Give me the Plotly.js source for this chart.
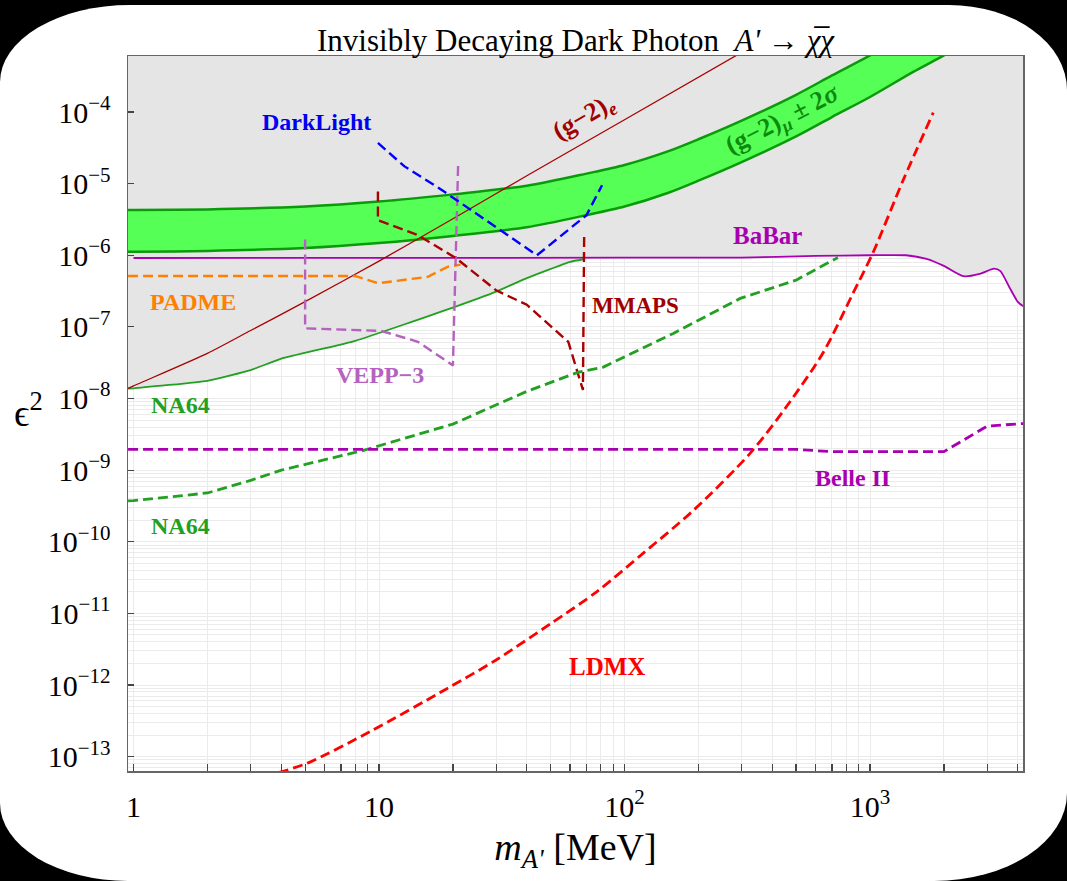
<!DOCTYPE html>
<html><head><meta charset="utf-8">
<script src="https://cdn.plot.ly/plotly-3.0.1.min.js"></script>
<style>
html,body{margin:0;padding:0;background:#000;width:1067px;height:881px;overflow:hidden;}
#bg{position:absolute;left:0;top:5px;width:1067px;height:876px;background:#fff;border-radius:130px 118px 133px 128px / 77px 85px 88px 78px;}
#chart{position:absolute;left:0;top:0;width:1067px;height:881px;}
</style></head><body>
<div id="bg"></div><div id="chart"></div>
<script>
// ---- data (mass in MeV, epsilon^2) ----
const bandMass   = [0.9, 1, 2, 5, 10, 20, 40, 70, 100, 150, 200, 300, 500, 700, 1000, 1500, 2000, 3000, 4500];
const g2muLower  = [1.12e-6, 1.12e-6, 1.15e-6, 1.26e-6, 1.48e-6, 1.86e-6, 2.46e-6, 3.63e-6, 4.79e-6, 7.41e-6, 1.10e-5, 2.0e-5, 4.57e-5, 8.51e-5, 1.62e-4, 3.63e-4, 6.17e-4, 1.38e-3, 3.16e-3];
const g2muUpper  = [4.27e-6, 4.27e-6, 4.37e-6, 4.79e-6, 5.62e-6, 7.08e-6, 9.33e-6, 1.38e-5, 1.82e-5, 2.82e-5, 4.17e-5, 7.59e-5, 1.74e-4, 3.24e-4, 6.17e-4, 1.38e-3, 2.34e-3, 5.25e-3, 1.26e-2];

const g2eMass = [0.95, 1, 2, 3, 5, 10, 20, 40, 100, 300];
const g2eEps  = [1.38e-8, 1.5e-8, 4.27e-8, 8.9e-8, 2.25e-7, 8.3e-7, 3.24e-6, 1.29e-5, 7.8e-5, 6.8e-4];

const babarMass = [1, 10, 100, 300, 600, 1000, 1400, 1700, 2000, 2400, 2800, 3200, 3400, 3700, 4000, 4300];
const babarEps  = [9.16e-7, 9.2e-7, 9.25e-7, 9.3e-7, 9.8e-7, 1.0e-6, 1.0e-6, 8.9e-7, 7.1e-7, 5.1e-7, 5.5e-7, 6.5e-7, 6.0e-7, 3.55e-7, 2.24e-7, 1.85e-7];

const na64Mass = [0.95, 1, 2, 3, 4, 8, 20, 30, 40, 60, 68];
const na64Eps  = [1.38e-8, 1.39e-8, 1.77e-8, 2.5e-8, 3.6e-8, 6.4e-8, 1.86e-7, 3.1e-7, 4.8e-7, 8.1e-7, 8.8e-7];

const na64ProjMass = [0.95, 1, 2, 3, 4, 8.5, 20, 40, 65, 82, 158, 296, 500, 740];
const na64ProjEps  = [3.72e-10, 3.75e-10, 4.8e-10, 7.2e-10, 1.0e-9, 1.86e-9, 4.4e-9, 1.26e-8, 2.34e-8, 2.75e-8, 8.1e-8, 2.5e-7, 4.5e-7, 9.3e-7];

const belleMass = [0.95, 500, 700, 2000, 3000, 4300];
const belleEps  = [1.95e-9, 1.95e-9, 1.81e-9, 1.81e-9, 4.12e-9, 4.5e-9];

const ldmxMass = [3.9, 5.1, 9.2, 18.9, 30, 50, 77, 119, 191, 324, 458, 645, 855, 1030, 1370, 1810];
const ldmxEps  = [6.0e-14, 8.1e-14, 2.24e-13, 8.9e-13, 2.24e-12, 7.2e-12, 2.0e-11, 6.9e-11, 2.75e-10, 1.7e-9, 7.8e-9, 4.4e-8, 3.0e-7, 1.1e-6, 1.15e-5, 9.8e-5];

const darkLightMass = [9.9, 12.7, 17.7, 44, 70, 81];
const darkLightEps  = [3.7e-5, 1.74e-5, 8.5e-6, 1.0e-6, 3.63e-6, 9.5e-6];

const veppMass = [5, 5, 10.2, 14.4, 20, 21];
const veppEps  = [1.66e-6, 9.55e-8, 8.8e-8, 6.2e-8, 2.9e-8, 1.82e-5];

const padmeMass = [0.95, 8, 9.9, 15.8, 19, 21.5];
const padmeEps  = [5.13e-7, 5.13e-7, 4.07e-7, 5.0e-7, 6.9e-7, 7.4e-7];

const mmapsMass = [9.9, 9.9, 14.4, 20.6, 30, 40, 59, 67.7, 68.5];
const mmapsEps  = [7.76e-6, 3.09e-6, 1.91e-6, 9.1e-7, 3.24e-7, 2.04e-7, 6.2e-8, 1.32e-8, 1.9e-6];

const xTickVals = [1, 10, 100, 1000];
const xTickText = ['1', '10', '10<sup>2</sup>', '10<sup>3</sup>'];
const yTickVals = [1e-4, 1e-5, 1e-6, 1e-7, 1e-8, 1e-9, 1e-10, 1e-11, 1e-12, 1e-13];
const yTickText = ['10<sup>−4</sup>', '10<sup>−5</sup>', '10<sup>−6</sup>', '10<sup>−7</sup>', '10<sup>−8</sup>', '10<sup>−9</sup>', '10<sup>−10</sup>', '10<sup>−11</sup>', '10<sup>−12</sup>', '10<sup>−13</sup>'];

// ---- excluded (grey) region: above NA64 then BaBar ----
const joinMass = na64Mass[na64Mass.length - 1];
const exX = na64Mass.concat(babarMass.filter(m => m > joinMass));
const exY = na64Eps.concat(babarEps.filter((_, i) => babarMass[i] > joinMass));
const greyX = [0.5].concat(exX, [6000, 6000, 0.5]);
const greyY = [exY[0]].concat(exY, [exY[exY.length - 1], 1, 1]);

const FONT = 'Liberation Serif, Times New Roman, serif';
function line(x, y, color, width, dash, smooth) {
  const ln = {color: color, width: width, dash: dash || 'solid'};
  if (smooth) { ln.shape = 'spline'; ln.smoothing = smooth; }
  return {x: x, y: y, type: 'scatter', mode: 'lines', hoverinfo: 'skip', line: ln};
}
const DASH = '10px,5px';

const traces = [
  {x: greyX, y: greyY, type: 'scatter', mode: 'lines', fill: 'toself', fillcolor: '#e5e5e5',
   line: {width: 0, color: 'rgba(0,0,0,0)'}, hoverinfo: 'skip'},
  {x: bandMass, y: g2muLower, type: 'scatter', mode: 'lines', line: {color: '#0a9a0a', width: 2.5, shape: 'spline', smoothing: 0.8}, hoverinfo: 'skip'},
  {x: bandMass, y: g2muUpper, type: 'scatter', mode: 'lines', fill: 'tonexty', fillcolor: '#55ff55',
   line: {color: '#0a9a0a', width: 2.5, shape: 'spline', smoothing: 0.8}, hoverinfo: 'skip'},
  line(babarMass, babarEps, '#a800b0', 1.8, null, 0.6),
  line(na64Mass, na64Eps, '#22a022', 1.8, null, 0.4),
  line(g2eMass, g2eEps, '#aa0000', 1.3, null, 0.6),
  line(padmeMass, padmeEps, '#ff8000', 2.4, DASH),
  line(veppMass, veppEps, '#b462be', 2.4, DASH),
  line(mmapsMass, mmapsEps, '#aa0000', 2.4, DASH),
  line(darkLightMass, darkLightEps, '#0000ff', 2.4, DASH),
  line(na64ProjMass, na64ProjEps, '#22a022', 2.8, DASH),
  line(belleMass, belleEps, '#a800b0', 2.8, DASH),
  line(ldmxMass, ldmxEps, '#ff0000', 2.8, DASH, 0.8)
];

// pixel -> paper helpers for label placement
const L = 128, R = 1023, T = 56, B = 771;
const px = v => (v - L) / (R - L);
const py = v => (B - v) / (B - T);
function label(text, cx, cy, color, size, angle, bold) {
  return {text: bold === false ? text : '<b>' + text + '</b>', xref: 'paper', yref: 'paper',
          x: px(cx), y: py(cy), xanchor: 'center', yanchor: 'middle', showarrow: false,
          textangle: angle || 0, font: {family: FONT, size: size, color: color}};
}
const annotations = [
  label('DarkLight', 316, 122, '#0000ee', 24),
  label('PADME', 193, 302, '#ff8000', 24),
  label('NA64', 180, 405, '#22a022', 24),
  label('NA64', 180, 526, '#22a022', 24),
  label('VEPP−3', 380, 375, '#b462be', 24),
  label('(g−2)<sub><i>e</i></sub>', 584, 118, '#a00000', 26, -30),
  label('(g−2)<sub><i>μ</i></sub> ± 2<i>σ</i>', 783, 120, '#0d8a0d', 26, -27),
  label('BaBar', 767, 235, '#a800b0', 25),
  label('MMAPS', 635, 305, '#a00000', 23),
  label('Belle II', 852, 478, '#a800b0', 24),
  label('LDMX', 607, 666, '#ff0000', 25),
  {text: 'ϵ<sup>2</sup>', xref: 'paper', yref: 'paper', x: px(28), y: py(410), xanchor: 'center', yanchor: 'middle',
   showarrow: false, font: {family: FONT, size: 38, color: '#000'}}
];

const layout = {
  width: 1067, height: 881,
  margin: {l: L, r: 1067 - R, t: T, b: 881 - B, pad: 0},
  paper_bgcolor: 'rgba(0,0,0,0)', plot_bgcolor: '#ffffff',
  showlegend: false,
  font: {family: FONT, color: '#000'},
  title: {text: 'Invisibly Decaying Dark Photon  <i>A\'</i> → <i>χ̅χ</i>', xref: 'paper', x: 0.5, xanchor: 'center',
          yref: 'container', y: 1 - 40 / 881, yanchor: 'middle', font: {family: FONT, size: 31, color: '#000'}},
  xaxis: {type: 'log', range: [Math.log10(0.9495), Math.log10(4200)], tickmode: 'array', tickvals: xTickVals, ticktext: xTickText,
          ticks: 'inside', ticklen: 7, tickwidth: 1.2, tickcolor: '#444', showline: true, linecolor: '#666', linewidth: 1.5, mirror: true,
          showgrid: true, gridcolor: '#ebebeb', gridwidth: 1, zeroline: false, ticklabelstandoff: 8,
          tickfont: {family: FONT, size: 30, color: '#000'},
          minor: {dtick: 'D1', ticks: 'inside', ticklen: 7, tickcolor: '#444', showgrid: true, gridcolor: '#ebebeb', gridwidth: 1},
          title: {text: '<i>m</i><sub><i>A\'</i></sub> [MeV]', standoff: 12, font: {family: FONT, size: 38, color: '#000'}}},
  yaxis: {type: 'log', range: [-13.2, -3.218], tickmode: 'array', tickvals: yTickVals, ticktext: yTickText,
          ticks: 'inside', ticklen: 6, tickwidth: 1.2, tickcolor: '#444', showline: true, linecolor: '#666', linewidth: 1.5, mirror: true,
          showgrid: true, gridcolor: '#ebebeb', gridwidth: 1, zeroline: false, ticklabelstandoff: 10,
          tickfont: {family: FONT, size: 30, color: '#000'},
          minor: {dtick: 'D1', ticks: '', showgrid: true, gridcolor: '#ebebeb', gridwidth: 1}},
  annotations: annotations
};

Plotly.newPlot('chart', traces, layout, {displayModeBar: false, staticPlot: true});
</script>
</body></html>
